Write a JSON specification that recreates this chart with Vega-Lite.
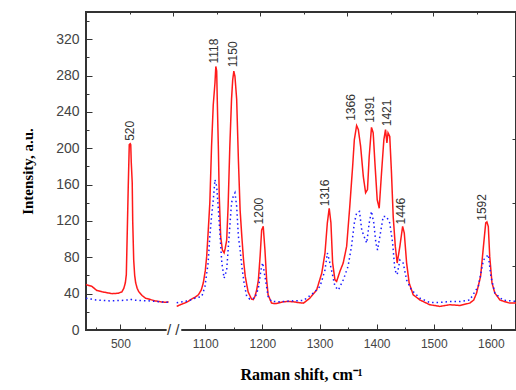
{
  "$schema": "https://vega.github.io/schema/vega-lite/v6.json",
  "width": 430,
  "height": 318,
  "autosize": "none",
  "padding": {"left": 86, "top": 12, "right": 0, "bottom": 60},
  "background": "white",
  "view": {"stroke": "#333333", "strokeWidth": 2},
  "config": {
    "axis": {"tickColor": "#333333", "labelFont": "Liberation Sans", "labelColor": "#444444", "titleFont": "Liberation Serif", "titleFontWeight": "bold", "titleColor": "#000000", "grid": false, "domain": false}
  },
  "datasets": {
    "spec": [
      {"s": "red", "g": 1, "x": 430, "y": 50}, {"s": "red", "g": 1, "x": 442, "y": 48}, {"s": "red", "g": 1, "x": 452, "y": 43.5}, {"s": "red", "g": 1, "x": 463, "y": 42}, {"s": "red", "g": 1, "x": 473, "y": 41}, {"s": "red", "g": 1, "x": 483, "y": 40}, {"s": "red", "g": 1, "x": 496, "y": 40.5}, {"s": "red", "g": 1, "x": 503, "y": 42}, {"s": "red", "g": 1, "x": 507, "y": 46}, {"s": "red", "g": 1, "x": 510, "y": 52}, {"s": "red", "g": 1, "x": 512, "y": 61}, {"s": "red", "g": 1, "x": 514, "y": 110}, {"s": "red", "g": 1, "x": 516, "y": 160}, {"s": "red", "g": 1, "x": 518, "y": 204}, {"s": "red", "g": 1, "x": 520, "y": 205}, {"s": "red", "g": 1, "x": 521, "y": 204}, {"s": "red", "g": 1, "x": 522, "y": 185}, {"s": "red", "g": 1, "x": 524, "y": 162}, {"s": "red", "g": 1, "x": 525, "y": 120}, {"s": "red", "g": 1, "x": 527, "y": 77}, {"s": "red", "g": 1, "x": 529, "y": 60}, {"s": "red", "g": 1, "x": 531, "y": 52}, {"s": "red", "g": 1, "x": 534, "y": 46}, {"s": "red", "g": 1, "x": 537, "y": 42.5}, {"s": "red", "g": 1, "x": 544, "y": 38}, {"s": "red", "g": 1, "x": 551, "y": 35}, {"s": "red", "g": 1, "x": 561, "y": 33.5}, {"s": "red", "g": 1, "x": 571, "y": 32}, {"s": "red", "g": 1, "x": 582, "y": 31}, {"s": "red", "g": 1, "x": 592, "y": 30.5}, {"s": "red", "g": 1, "x": 598, "y": 31},
      {"s": "red", "g": 2, "x": 1050, "y": 26}, {"s": "red", "g": 2, "x": 1057, "y": 28}, {"s": "red", "g": 2, "x": 1064, "y": 29.6}, {"s": "red", "g": 2, "x": 1070, "y": 31.5}, {"s": "red", "g": 2, "x": 1076, "y": 34}, {"s": "red", "g": 2, "x": 1082, "y": 36}, {"s": "red", "g": 2, "x": 1088, "y": 38.8}, {"s": "red", "g": 2, "x": 1093, "y": 44}, {"s": "red", "g": 2, "x": 1096.5, "y": 51.7}, {"s": "red", "g": 2, "x": 1100, "y": 65}, {"s": "red", "g": 2, "x": 1102.5, "y": 81}, {"s": "red", "g": 2, "x": 1105, "y": 107}, {"s": "red", "g": 2, "x": 1108, "y": 140}, {"s": "red", "g": 2, "x": 1111, "y": 202}, {"s": "red", "g": 2, "x": 1114, "y": 248}, {"s": "red", "g": 2, "x": 1117, "y": 272}, {"s": "red", "g": 2, "x": 1118.5, "y": 290}, {"s": "red", "g": 2, "x": 1120, "y": 285}, {"s": "red", "g": 2, "x": 1121, "y": 254}, {"s": "red", "g": 2, "x": 1123, "y": 198.6}, {"s": "red", "g": 2, "x": 1124.5, "y": 147}, {"s": "red", "g": 2, "x": 1127, "y": 103}, {"s": "red", "g": 2, "x": 1130, "y": 88}, {"s": "red", "g": 2, "x": 1133, "y": 85}, {"s": "red", "g": 2, "x": 1135, "y": 90}, {"s": "red", "g": 2, "x": 1137.5, "y": 99}, {"s": "red", "g": 2, "x": 1140, "y": 136}, {"s": "red", "g": 2, "x": 1143, "y": 202}, {"s": "red", "g": 2, "x": 1146, "y": 254}, {"s": "red", "g": 2, "x": 1148, "y": 275}, {"s": "red", "g": 2, "x": 1150, "y": 285}, {"s": "red", "g": 2, "x": 1152, "y": 279}, {"s": "red", "g": 2, "x": 1155, "y": 254}, {"s": "red", "g": 2, "x": 1158, "y": 187.5}, {"s": "red", "g": 2, "x": 1161, "y": 132}, {"s": "red", "g": 2, "x": 1164, "y": 103}, {"s": "red", "g": 2, "x": 1167, "y": 77}, {"s": "red", "g": 2, "x": 1170, "y": 59}, {"s": "red", "g": 2, "x": 1175, "y": 42}, {"s": "red", "g": 2, "x": 1181, "y": 34}, {"s": "red", "g": 2, "x": 1184, "y": 33.5}, {"s": "red", "g": 2, "x": 1187, "y": 37}, {"s": "red", "g": 2, "x": 1190, "y": 44}, {"s": "red", "g": 2, "x": 1193, "y": 55}, {"s": "red", "g": 2, "x": 1196, "y": 81}, {"s": "red", "g": 2, "x": 1198.7, "y": 110}, {"s": "red", "g": 2, "x": 1201.5, "y": 114}, {"s": "red", "g": 2, "x": 1204.5, "y": 88}, {"s": "red", "g": 2, "x": 1207.5, "y": 55}, {"s": "red", "g": 2, "x": 1210, "y": 38.8}, {"s": "red", "g": 2, "x": 1216, "y": 29.6}, {"s": "red", "g": 2, "x": 1222, "y": 29}, {"s": "red", "g": 2, "x": 1228, "y": 29.6}, {"s": "red", "g": 2, "x": 1236, "y": 31}, {"s": "red", "g": 2, "x": 1245, "y": 31.4}, {"s": "red", "g": 2, "x": 1255, "y": 31}, {"s": "red", "g": 2, "x": 1265, "y": 30}, {"s": "red", "g": 2, "x": 1272, "y": 29.6}, {"s": "red", "g": 2, "x": 1283, "y": 35}, {"s": "red", "g": 2, "x": 1295, "y": 44}, {"s": "red", "g": 2, "x": 1304, "y": 62.7}, {"s": "red", "g": 2, "x": 1309.6, "y": 84.7}, {"s": "red", "g": 2, "x": 1313.7, "y": 117.8}, {"s": "red", "g": 2, "x": 1317, "y": 134}, {"s": "red", "g": 2, "x": 1320, "y": 118}, {"s": "red", "g": 2, "x": 1323, "y": 73.7}, {"s": "red", "g": 2, "x": 1327, "y": 55.3}, {"s": "red", "g": 2, "x": 1330, "y": 53.5}, {"s": "red", "g": 2, "x": 1335.7, "y": 64.5}, {"s": "red", "g": 2, "x": 1341.5, "y": 73.7}, {"s": "red", "g": 2, "x": 1347.5, "y": 92}, {"s": "red", "g": 2, "x": 1353, "y": 136}, {"s": "red", "g": 2, "x": 1358, "y": 180}, {"s": "red", "g": 2, "x": 1361, "y": 209.6}, {"s": "red", "g": 2, "x": 1365, "y": 225}, {"s": "red", "g": 2, "x": 1368, "y": 220.6}, {"s": "red", "g": 2, "x": 1372, "y": 202}, {"s": "red", "g": 2, "x": 1376.7, "y": 169}, {"s": "red", "g": 2, "x": 1380.7, "y": 151}, {"s": "red", "g": 2, "x": 1384, "y": 154.5}, {"s": "red", "g": 2, "x": 1387, "y": 191}, {"s": "red", "g": 2, "x": 1391, "y": 223}, {"s": "red", "g": 2, "x": 1394, "y": 217}, {"s": "red", "g": 2, "x": 1397, "y": 184}, {"s": "red", "g": 2, "x": 1401, "y": 143.5}, {"s": "red", "g": 2, "x": 1404.5, "y": 134}, {"s": "red", "g": 2, "x": 1408.6, "y": 173}, {"s": "red", "g": 2, "x": 1412.7, "y": 209.6}, {"s": "red", "g": 2, "x": 1415.6, "y": 220.6}, {"s": "red", "g": 2, "x": 1418, "y": 206}, {"s": "red", "g": 2, "x": 1420, "y": 217}, {"s": "red", "g": 2, "x": 1423, "y": 213}, {"s": "red", "g": 2, "x": 1426, "y": 173}, {"s": "red", "g": 2, "x": 1429, "y": 125}, {"s": "red", "g": 2, "x": 1432.7, "y": 92}, {"s": "red", "g": 2, "x": 1436, "y": 73.7}, {"s": "red", "g": 2, "x": 1440.7, "y": 92}, {"s": "red", "g": 2, "x": 1445.5, "y": 114}, {"s": "red", "g": 2, "x": 1448.4, "y": 106.8}, {"s": "red", "g": 2, "x": 1452.5, "y": 73.7}, {"s": "red", "g": 2, "x": 1457, "y": 51.7}, {"s": "red", "g": 2, "x": 1464, "y": 38.8}, {"s": "red", "g": 2, "x": 1476, "y": 33}, {"s": "red", "g": 2, "x": 1493, "y": 27.8}, {"s": "red", "g": 2, "x": 1511, "y": 26}, {"s": "red", "g": 2, "x": 1528, "y": 27.8}, {"s": "red", "g": 2, "x": 1546, "y": 27}, {"s": "red", "g": 2, "x": 1563, "y": 29.6}, {"s": "red", "g": 2, "x": 1570, "y": 33}, {"s": "red", "g": 2, "x": 1575, "y": 40.6}, {"s": "red", "g": 2, "x": 1582, "y": 59}, {"s": "red", "g": 2, "x": 1587, "y": 92}, {"s": "red", "g": 2, "x": 1591, "y": 117.8}, {"s": "red", "g": 2, "x": 1593, "y": 119}, {"s": "red", "g": 2, "x": 1595.5, "y": 114}, {"s": "red", "g": 2, "x": 1598, "y": 81}, {"s": "red", "g": 2, "x": 1602, "y": 51.7}, {"s": "red", "g": 2, "x": 1607, "y": 40.6}, {"s": "red", "g": 2, "x": 1616, "y": 33}, {"s": "red", "g": 2, "x": 1625, "y": 31}, {"s": "red", "g": 2, "x": 1633, "y": 29.6}, {"s": "red", "g": 2, "x": 1644, "y": 29.6},
      {"s": "blue", "g": 1, "x": 430, "y": 35}, {"s": "blue", "g": 1, "x": 440, "y": 34}, {"s": "blue", "g": 1, "x": 450, "y": 33}, {"s": "blue", "g": 1, "x": 465, "y": 32.5}, {"s": "blue", "g": 1, "x": 480, "y": 32}, {"s": "blue", "g": 1, "x": 500, "y": 32.5}, {"s": "blue", "g": 1, "x": 515, "y": 33}, {"s": "blue", "g": 1, "x": 520, "y": 34}, {"s": "blue", "g": 1, "x": 525, "y": 33}, {"s": "blue", "g": 1, "x": 540, "y": 32.5}, {"s": "blue", "g": 1, "x": 560, "y": 32}, {"s": "blue", "g": 1, "x": 580, "y": 31}, {"s": "blue", "g": 1, "x": 598, "y": 30.5},
      {"s": "blue", "g": 2, "x": 1050, "y": 30}, {"s": "blue", "g": 2, "x": 1060, "y": 31}, {"s": "blue", "g": 2, "x": 1070, "y": 32}, {"s": "blue", "g": 2, "x": 1082, "y": 35}, {"s": "blue", "g": 2, "x": 1094, "y": 37}, {"s": "blue", "g": 2, "x": 1099.5, "y": 48}, {"s": "blue", "g": 2, "x": 1105, "y": 73.7}, {"s": "blue", "g": 2, "x": 1108, "y": 103}, {"s": "blue", "g": 2, "x": 1111, "y": 125}, {"s": "blue", "g": 2, "x": 1114, "y": 143}, {"s": "blue", "g": 2, "x": 1117, "y": 165.5}, {"s": "blue", "g": 2, "x": 1120, "y": 158}, {"s": "blue", "g": 2, "x": 1123, "y": 132}, {"s": "blue", "g": 2, "x": 1126, "y": 103}, {"s": "blue", "g": 2, "x": 1129, "y": 73.7}, {"s": "blue", "g": 2, "x": 1133, "y": 57}, {"s": "blue", "g": 2, "x": 1137.5, "y": 66}, {"s": "blue", "g": 2, "x": 1140, "y": 88}, {"s": "blue", "g": 2, "x": 1143, "y": 114}, {"s": "blue", "g": 2, "x": 1146, "y": 140}, {"s": "blue", "g": 2, "x": 1149, "y": 147}, {"s": "blue", "g": 2, "x": 1152, "y": 151}, {"s": "blue", "g": 2, "x": 1155, "y": 136}, {"s": "blue", "g": 2, "x": 1158, "y": 103}, {"s": "blue", "g": 2, "x": 1161, "y": 88}, {"s": "blue", "g": 2, "x": 1164, "y": 70}, {"s": "blue", "g": 2, "x": 1168, "y": 51.7}, {"s": "blue", "g": 2, "x": 1172.5, "y": 37}, {"s": "blue", "g": 2, "x": 1178, "y": 34}, {"s": "blue", "g": 2, "x": 1187, "y": 35}, {"s": "blue", "g": 2, "x": 1193, "y": 46}, {"s": "blue", "g": 2, "x": 1197.5, "y": 66}, {"s": "blue", "g": 2, "x": 1200.5, "y": 74}, {"s": "blue", "g": 2, "x": 1204.5, "y": 59}, {"s": "blue", "g": 2, "x": 1210, "y": 37}, {"s": "blue", "g": 2, "x": 1216, "y": 31.5}, {"s": "blue", "g": 2, "x": 1230, "y": 31}, {"s": "blue", "g": 2, "x": 1250, "y": 32}, {"s": "blue", "g": 2, "x": 1272, "y": 32.5}, {"s": "blue", "g": 2, "x": 1289, "y": 40.6}, {"s": "blue", "g": 2, "x": 1301, "y": 48}, {"s": "blue", "g": 2, "x": 1309.6, "y": 66}, {"s": "blue", "g": 2, "x": 1313.7, "y": 84.7}, {"s": "blue", "g": 2, "x": 1317, "y": 77}, {"s": "blue", "g": 2, "x": 1321, "y": 66}, {"s": "blue", "g": 2, "x": 1327, "y": 48}, {"s": "blue", "g": 2, "x": 1333, "y": 44}, {"s": "blue", "g": 2, "x": 1341.5, "y": 55}, {"s": "blue", "g": 2, "x": 1350, "y": 70}, {"s": "blue", "g": 2, "x": 1356, "y": 92}, {"s": "blue", "g": 2, "x": 1361, "y": 117.8}, {"s": "blue", "g": 2, "x": 1365, "y": 128.8}, {"s": "blue", "g": 2, "x": 1370, "y": 130.6}, {"s": "blue", "g": 2, "x": 1374, "y": 110}, {"s": "blue", "g": 2, "x": 1378, "y": 103}, {"s": "blue", "g": 2, "x": 1382.7, "y": 95.8}, {"s": "blue", "g": 2, "x": 1387, "y": 117.8}, {"s": "blue", "g": 2, "x": 1391, "y": 130.6}, {"s": "blue", "g": 2, "x": 1395, "y": 117.8}, {"s": "blue", "g": 2, "x": 1398.7, "y": 95.8}, {"s": "blue", "g": 2, "x": 1401.6, "y": 88}, {"s": "blue", "g": 2, "x": 1405.7, "y": 103}, {"s": "blue", "g": 2, "x": 1411.5, "y": 125}, {"s": "blue", "g": 2, "x": 1417.3, "y": 125}, {"s": "blue", "g": 2, "x": 1423, "y": 117.8}, {"s": "blue", "g": 2, "x": 1428, "y": 95.8}, {"s": "blue", "g": 2, "x": 1432, "y": 66}, {"s": "blue", "g": 2, "x": 1436, "y": 61}, {"s": "blue", "g": 2, "x": 1440.7, "y": 77}, {"s": "blue", "g": 2, "x": 1446.5, "y": 73.7}, {"s": "blue", "g": 2, "x": 1452.5, "y": 55}, {"s": "blue", "g": 2, "x": 1461, "y": 44}, {"s": "blue", "g": 2, "x": 1476, "y": 35}, {"s": "blue", "g": 2, "x": 1493, "y": 30.3}, {"s": "blue", "g": 2, "x": 1511, "y": 30.3}, {"s": "blue", "g": 2, "x": 1528, "y": 31.4}, {"s": "blue", "g": 2, "x": 1546, "y": 31.4}, {"s": "blue", "g": 2, "x": 1563, "y": 33}, {"s": "blue", "g": 2, "x": 1578, "y": 48}, {"s": "blue", "g": 2, "x": 1587, "y": 77}, {"s": "blue", "g": 2, "x": 1595.5, "y": 83}, {"s": "blue", "g": 2, "x": 1600, "y": 59}, {"s": "blue", "g": 2, "x": 1607, "y": 40.6}, {"s": "blue", "g": 2, "x": 1621, "y": 33}, {"s": "blue", "g": 2, "x": 1644, "y": 31.4}
    ],
    "peaks": [
      {"t": "520", "x": 520, "y": 206}, {"t": "1118", "x": 1116, "y": 291}, {"t": "1150", "x": 1148, "y": 287}, {"t": "1200", "x": 1194, "y": 114}, {"t": "1316", "x": 1310, "y": 134}, {"t": "1366", "x": 1356, "y": 228}, {"t": "1391", "x": 1388, "y": 226}, {"t": "1421", "x": 1419, "y": 222}, {"t": "1446", "x": 1442, "y": 114}, {"t": "1592", "x": 1584, "y": 118}
    ]
  },
  "resolve": {"axis": {"x": "independent", "y": "independent"}},
  "layer": [
    {
      "data": {"name": "spec"},
      "mark": {"type": "line", "strokeWidth": 1.5, "interpolate": "linear"},
      "encoding": {
        "x": {"field": "x", "type": "quantitative",
          "scale": {"domain": [430, 600, 1050, 1644], "range": [0, 83.6, 90.7, 430], "nice": false, "zero": false},
          "axis": {"orient": "bottom", "values": [500, 1100, 1200, 1300, 1400, 1500, 1600], "format": "d", "tickSize": -6, "labelPadding": 14, "labelFontSize": 12, "title": "Raman shift, cm⁻¹", "titleFontSize": 16, "titlePadding": 17}},
        "y": {"field": "y", "type": "quantitative",
          "scale": {"domain": [0, 350], "nice": false, "zero": false},
          "axis": {"orient": "left", "values": [0, 40, 80, 120, 160, 200, 240, 280, 320], "format": "d", "tickSize": -6, "labelPadding": 13, "labelFontSize": 14, "title": "Intensity, a.u.", "titleFontSize": 15, "titlePadding": 20}},
        "color": {"field": "s", "type": "nominal", "scale": {"domain": ["red", "blue"], "range": ["#ff1a1a", "#1a1aff"]}, "legend": null},
        "strokeDash": {"field": "s", "type": "nominal", "scale": {"domain": ["red", "blue"], "range": [[1, 0], [1.5, 3]]}, "legend": null},
        "detail": {"field": "g", "type": "nominal"}
      }
    },
    {
      "data": {"values": []},
      "mark": {"type": "point"},
      "encoding": {
        "x": {"field": "x", "type": "quantitative", "axis": {"orient": "bottom", "values": [450, 550, 1150, 1250, 1350, 1450, 1550], "tickSize": -3, "labels": false, "title": null}},
        "y": {"field": "y", "type": "quantitative", "axis": {"orient": "left", "values": [20, 60, 100, 140, 180, 220, 260, 300, 340], "tickSize": -3, "labels": false, "title": null}}
      }
    },
    {
      "data": {"values": []},
      "mark": {"type": "point"},
      "encoding": {
        "x": {"field": "x", "type": "quantitative", "axis": {"orient": "top", "values": [815, 1195.8, 1348, 1498.5], "tickSize": -4, "labels": false, "title": null}},
        "y": {"field": "y", "type": "quantitative", "axis": {"orient": "right", "values": [70, 140, 210, 280], "tickSize": -4, "labels": false, "title": null}}
      }
    },
    {
      "data": {"values": []},
      "mark": {"type": "point"},
      "encoding": {
        "x": {"field": "x", "type": "quantitative", "axis": {"orient": "top", "values": [519.5, 1120.5, 1272.8, 1425, 1575.5], "tickSize": -2, "labels": false, "title": null}},
        "y": {"field": "y", "type": "quantitative", "axis": null}
      }
    },
    {
      "data": {"values": [{}]},
      "mark": {"type": "rect", "color": "white"},
      "encoding": {
        "x": {"datum": 594, "type": "quantitative", "axis": null},
        "x2": {"datum": 1058},
        "y": {"datum": -4, "type": "quantitative", "axis": null},
        "y2": {"datum": 4}
      }
    },
    {
      "data": {"values": [{}]},
      "mark": {"type": "text", "text": "/ /", "font": "Liberation Sans", "fontSize": 15, "color": "#333333", "align": "center", "baseline": "middle"},
      "encoding": {
        "x": {"datum": 826, "type": "quantitative", "axis": null},
        "y": {"datum": 0, "type": "quantitative", "axis": null}
      }
    },
    {
      "data": {"name": "peaks"},
      "mark": {"type": "text", "angle": 270, "align": "left", "baseline": "middle", "dx": 2, "font": "Liberation Sans", "fontSize": 12, "color": "#333333"},
      "encoding": {
        "x": {"field": "x", "type": "quantitative", "axis": null},
        "y": {"field": "y", "type": "quantitative", "axis": null},
        "text": {"field": "t"}
      }
    }
  ]
}
